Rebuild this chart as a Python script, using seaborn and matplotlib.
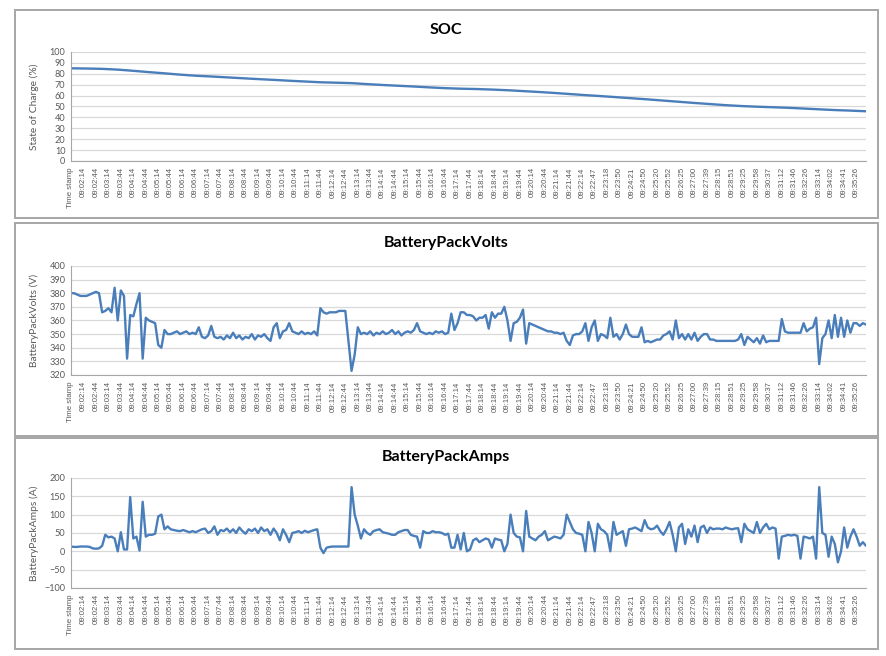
import numpy as np
import pandas as pd
import matplotlib
matplotlib.use("Agg")
import matplotlib.pyplot as plt
import seaborn as sns
from matplotlib.patches import Rectangle

# ---------------- data ----------------
tick_labels = [
    "Time stamp",
    "09:02:14", "09:02:44", "09:03:14", "09:03:44", "09:04:14", "09:04:44",
    "09:05:14", "09:05:44", "09:06:14", "09:06:44", "09:07:14", "09:07:44",
    "09:08:14", "09:08:44", "09:09:14", "09:09:44", "09:10:14", "09:10:44",
    "09:11:14", "09:11:44", "09:12:14", "09:12:44", "09:13:14", "09:13:44",
    "09:14:14", "09:14:44", "09:15:14", "09:15:44", "09:16:14", "09:16:44",
    "09:17:14", "09:17:44", "09:18:14", "09:18:44", "09:19:14", "09:19:44",
    "09:20:14", "09:20:44", "09:21:14", "09:21:44", "09:22:14",
    "09:22:47", "09:23:18", "09:23:50", "09:24:21", "09:24:50", "09:25:20",
    "09:25:52", "09:26:25", "09:27:00", "09:27:39", "09:28:15", "09:28:51",
    "09:29:25", "09:29:58", "09:30:37", "09:31:12", "09:31:46", "09:32:26",
    "09:33:14", "09:34:02", "09:34:41", "09:35:26",
]
samples_per_label = 4

soc = [85.0, 84.8, 84.5, 83.8, 82.7, 81.5, 80.4, 79.2, 78.2, 77.5, 76.7, 75.9,
       75.1, 74.4, 73.6, 72.9, 72.2, 71.8, 71.4, 70.5, 69.7, 69.0, 68.3, 67.5,
       66.8, 66.3, 66.0, 65.5, 64.9, 64.1, 63.3, 62.4, 61.4, 60.4, 59.5, 58.5,
       57.5, 56.5, 55.4, 54.3, 53.2, 52.2, 51.2, 50.4, 49.8, 49.3, 48.8, 48.1,
       47.4, 46.7, 46.2, 45.6]
soc_step = 5

volts = [
    380, 380, 379, 378,  378, 378, 379, 380,  381, 380, 366, 367,
    369, 366, 384, 360,  382, 378, 332, 364,  363, 372, 380, 332,
    362, 360, 359, 358,  342, 340, 353, 350,  350, 351, 352, 350,
    351, 352, 350, 351,  350, 355, 348, 347,  349, 356, 348, 347,
    348, 346, 349, 347,  351, 347, 349, 346,  348, 347, 350, 346,
    349, 348, 350, 347,  345, 355, 358, 347,  352, 353, 358, 352,
    351, 350, 352, 350,  351, 350, 352, 349,  369, 366, 365, 366,
    366, 366, 367, 367,  367, 345, 323, 335,  355, 350, 351, 350,
    352, 349, 351, 350,  352, 350, 351, 353,  350, 352, 349, 351,
    352, 351, 353, 358,  352, 351, 350, 351,  350, 352, 351, 352,
    350, 351, 365, 353,  358, 366, 366, 364,  364, 363, 360, 362,
    362, 364, 354, 366,  362, 365, 365, 370,  360, 345, 358, 359,
    362, 368, 343, 358,  357, 356, 355, 354,  353, 352, 352, 351,
    351, 350, 351, 345,  342, 349, 350, 350,  352, 358, 345, 355,
    360, 345, 350, 349,  347, 362, 348, 350,  346, 350, 357, 350,
    348, 348, 348, 355,  344, 345, 344, 345,  346, 346, 349, 350,
    352, 346, 360, 347,  350, 346, 350, 346,  351, 345, 348, 350,
    350, 346, 346, 345,  345, 345, 345, 345,  345, 345, 346, 350,
    342, 348, 346, 344,  347, 343, 349, 344,  345, 345, 345, 345,
    361, 352, 351, 351,  351, 351, 351, 358,  352, 354, 355, 362,
    328, 347, 350, 360,  347, 364, 348, 362,  348, 360, 351, 358,
    358, 356, 358, 357,
]

amps = [
    13, 12, 12, 13,  13, 13, 12, 8,  7, 8, 15, 45,
    38, 40, 35, 0,  52, 5, 5, 148,  35, 40, 2, 135,
    40, 45, 45, 48,  95, 100, 60, 68,  60, 58, 56, 55,
    58, 55, 52, 55,  52, 56, 60, 62,  50, 55, 68, 45,
    58, 55, 62, 52,  60, 50, 65, 55,  48, 60, 55, 62,
    50, 65, 55, 60,  45, 62, 50, 30,  60, 45, 25, 50,
    52, 55, 50, 56,  52, 55, 58, 60,  10, -5, 10, 12,
    13, 13, 13, 13,  13, 13, 175, 100,  70, 35, 60, 50,
    45, 55, 58, 60,  52, 50, 48, 45,  45, 52, 55, 58,
    58, 45, 42, 40,  10, 55, 50, 50,  55, 52, 52, 50,
    45, 48, 10, 10,  45, 5, 50, 0,  5, 30, 35, 25,
    30, 35, 32, 10,  35, 32, 30, 0,  20, 100, 50, 40,
    38, 0, 110, 40,  35, 30, 40, 45,  55, 30, 35, 40,
    38, 35, 45, 100,  80, 60, 50, 48,  45, 0, 80, 50,
    0, 75, 60, 55,  45, 0, 80, 45,  50, 55, 15, 60,
    62, 65, 60, 55,  85, 65, 60, 62,  70, 55, 45, 60,
    80, 45, 0, 65,  75, 20, 60, 40,  70, 25, 65, 70,
    50, 65, 60, 62,  62, 60, 65, 62,  60, 62, 63, 25,
    75, 60, 55, 50,  80, 50, 65, 75,  60, 65, 62, -20,
    40, 42, 45, 43,  45, 42, -20, 40,  38, 35, 40, -20,
    175, 50, 45, -15,  40, 20, -30, 0,  65, 10, 40, 60,
    40, 15, 25, 15,
]

titles = ["SOC", "BatteryPackVolts", "BatteryPackAmps"]
ylabels = ["State of Charge (%)", "BatteryPackVolts (V)", "BatteryPackAmps (A)"]
yranges = [(0, 100, 10), (320, 400, 10), (-100, 200, 50)]

# ---------------- style ----------------
sns.set_theme(style="white")
plt.rcParams["font.family"] = ["Lato", "DejaVu Sans"]

LINE = "#4a7ebb"
GRID = "#d9d9d9"
TXT = "#595959"

n = len(volts)
df_v = pd.DataFrame({"idx": np.arange(len(volts)), "val": volts})
df_a = pd.DataFrame({"idx": np.arange(len(amps)), "val": amps})
soc_idx = np.minimum(np.arange(len(soc)) * soc_step, n - 1)
df_s = pd.DataFrame({"idx": soc_idx, "val": soc})
frames = [df_s, df_v, df_a]

fig = plt.figure(figsize=(8.87, 6.56), dpi=100)

# panel frames (Excel-like chart boxes)
boxes = [(0.6677, 0.3170), (0.3354, 0.3247), (0.0107, 0.3216)]
for b, h in boxes:
    fig.add_artist(Rectangle((0.0169, b), 0.973, h, transform=fig.transFigure,
                             fill=False, edgecolor="#a6a6a6", lw=1.4))

ax_pos = [
    [0.0800, 0.7546, 0.8963, 0.1662],
    [0.0800, 0.4284, 0.8963, 0.1662],
    [0.0800, 0.1037, 0.8963, 0.1677],
]
title_y = [0.954, 0.6296, 0.3034]

tick_pos = np.arange(len(tick_labels)) * samples_per_label

for k in range(3):
    ax = fig.add_axes(ax_pos[k])
    sns.lineplot(data=frames[k], x="idx", y="val", ax=ax, color=LINE,
                 linewidth=1.7)
    lo, hi, st = yranges[k]
    ax.set_ylim(lo, hi)
    ax.set_yticks(np.arange(lo, hi + st / 2, st))
    ax.set_xlim(0, n - 1)
    ax.set_xticks(tick_pos)
    ax.set_xticklabels(tick_labels, rotation=90, fontsize=5.6, color=TXT,
                       family=["Liberation Sans", "DejaVu Sans"])
    ax.tick_params(axis="y", labelsize=6.6, colors=TXT, length=0, pad=4)
    ax.tick_params(axis="x", length=2.5, width=0.6, color="#a6a6a6", pad=2,
                   direction="out")
    for lab in ax.get_yticklabels():
        lab.set_color(TXT)
    ax.yaxis.grid(True, color=GRID, linewidth=0.9)
    ax.xaxis.grid(False)
    ax.set_axisbelow(True)
    for s in ["top", "right"]:
        ax.spines[s].set_visible(False)
    for s in ["left", "bottom"]:
        ax.spines[s].set_color("#a6a6a6")
        ax.spines[s].set_linewidth(0.8)
    ax.set_xlabel("")
    ax.set_ylabel(ylabels[k], fontsize=7.4, color=TXT)
    ax.yaxis.set_label_coords(-0.040, 0.5)
    fig.text(0.503, title_y[k], titles[k], ha="center", va="center",
             fontsize=11.5, fontweight="bold", color="black")

fig.savefig("out.png", dpi=100)
